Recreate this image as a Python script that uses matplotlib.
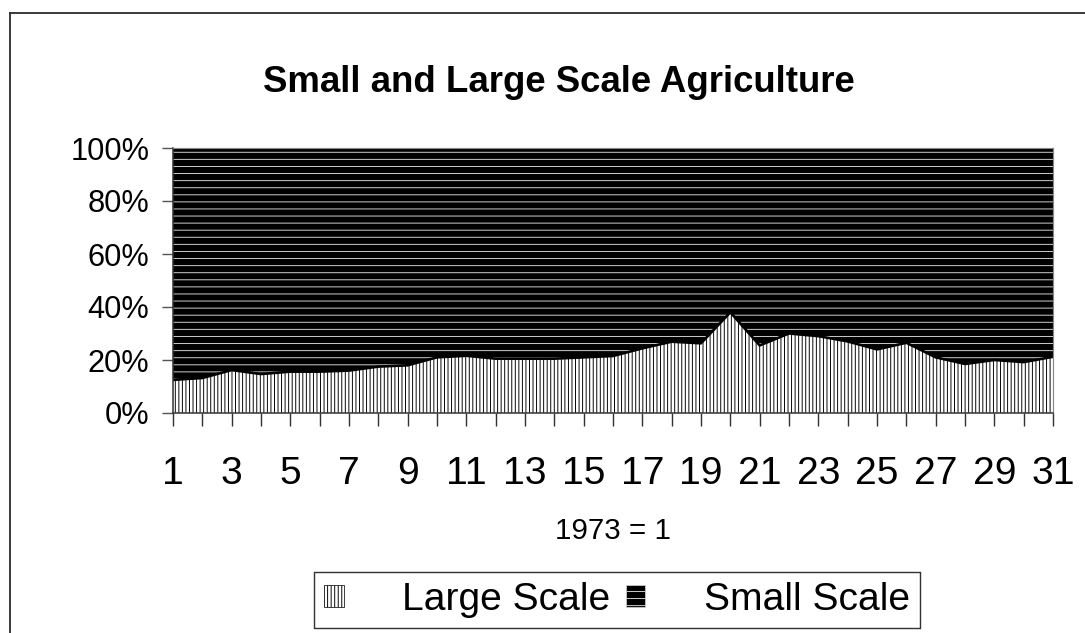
import matplotlib
matplotlib.use("Agg")
import matplotlib.pyplot as plt
from matplotlib.patches import Patch
from matplotlib.lines import Line2D

# data (share of large scale agriculture, %)
years = list(range(1, 32))
large_scale = [12.5, 13.2, 16.2, 14.7, 15.6, 15.6, 16.0, 17.5, 18.0, 21.0,
               21.6, 20.5, 20.5, 20.5, 21.0, 21.5, 24.4, 26.9, 26.3, 38.0,
               25.5, 30.0, 29.0, 27.0, 24.0, 26.5, 21.0, 18.5, 20.0, 19.2,
               21.2]
small_scale = [100 - v for v in large_scale]
tick_labels = [str(y) if y % 2 == 1 else "" for y in years]
y_ticks = [0, 20, 40, 60, 80, 100]

DPI = 85
W, H = 1085, 633

plt.rcParams["font.family"] = ["Liberation Sans", "DejaVu Sans"]
plt.rcParams["hatch.linewidth"] = 0.8

fig = plt.figure(figsize=(W / DPI, H / DPI), dpi=DPI)
ax = fig.add_axes([173 / W, 1 - 413 / H, (1053 - 173) / W, (413 - 148) / H])

ax.fill_between(years, 0, large_scale, facecolor="white", edgecolor="black",
                hatch="||||", linewidth=0)
ax.fill_between(years, large_scale, [100] * len(years), facecolor="black",
                edgecolor="#d4d4d4", hatch="--", linewidth=0)
ax.plot(years, large_scale, color="black", linewidth=2.2, solid_joinstyle="round")

ax.set_xlim(1, 31)
ax.set_ylim(0, 100)
ax.margins(0)

ax.set_yticks(y_ticks)
ax.set_yticklabels([f"{v}%" for v in y_ticks])
ax.set_xticks(years)
ax.set_xticklabels(tick_labels)
ax.tick_params(axis="y", direction="out", length=9, width=1.2, color="#555555",
               labelsize=26, pad=11)
ax.tick_params(axis="x", direction="out", length=11, width=1.2, color="#333333",
               labelsize=33, pad=25)

for side in ["left", "bottom"]:
    ax.spines[side].set_color("#333333")
    ax.spines[side].set_linewidth(1.3)
for side in ["top", "right"]:
    ax.spines[side].set_color("#888888")
    ax.spines[side].set_linewidth(1.0)

ax.set_xlabel("1973 = 1", fontsize=25, labelpad=22)

fig.text(559 / W, 1 - 82 / H, "Small and Large Scale Agriculture",
         fontsize=31, fontweight="bold", ha="center", va="center")

handles = [
    Patch(facecolor="white", edgecolor="black", hatch="||||", linewidth=0.6),
    Patch(facecolor="black", edgecolor="#d4d4d4", hatch="--", linewidth=0.6),
]
leg = fig.legend(handles, ["Large Scale", "Small Scale"], ncol=2,
                 loc="center", bbox_to_anchor=(617 / W, 1 - 600 / H),
                 fontsize=33, frameon=True, fancybox=False, framealpha=1,
                 edgecolor="#333333", handlelength=0.5, handleheight=0.5,
                 handletextpad=1.5, columnspacing=0.4, borderpad=0.25,
                 borderaxespad=0)
leg.get_frame().set_linewidth(1.2)

# outer frame of the original figure (cut off at right and bottom)
fig.add_artist(Line2D([10 / W, 10 / W], [0, 1 - 13 / H], color="#333333",
                      linewidth=1.6, transform=fig.transFigure))
fig.add_artist(Line2D([10 / W, 1], [1 - 13 / H, 1 - 13 / H], color="#333333",
                      linewidth=1.6, transform=fig.transFigure))

fig.savefig("out.png", dpi=DPI)
